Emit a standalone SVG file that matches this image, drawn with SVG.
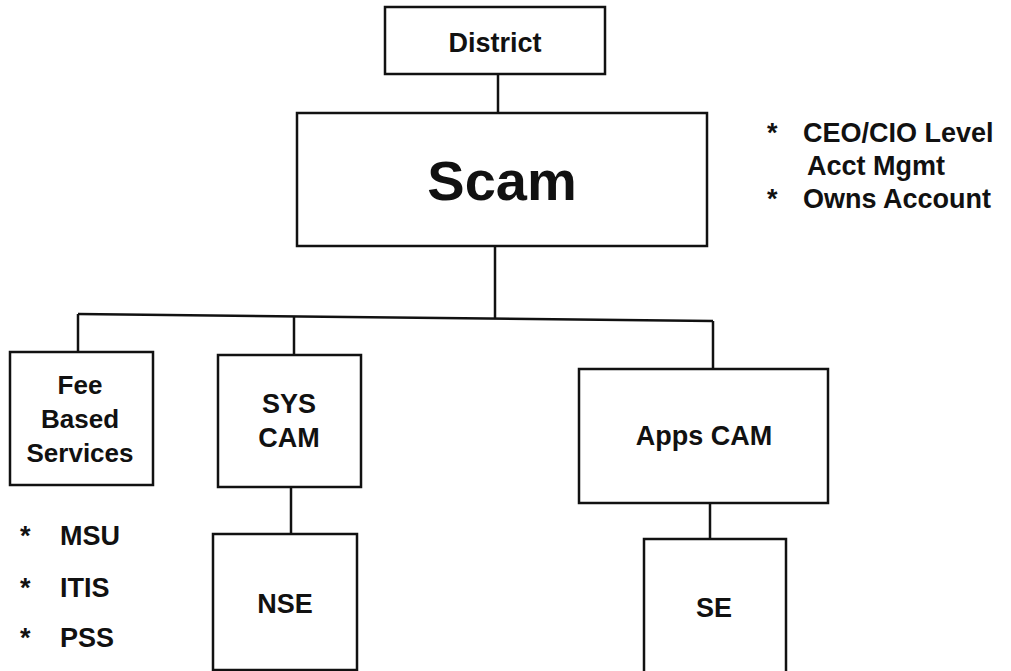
<svg xmlns="http://www.w3.org/2000/svg" width="1011" height="671" viewBox="0 0 1011 671">
<style>
.box{fill:#fff;stroke:#111;stroke-width:2.5}
.con{stroke:#111;stroke-width:2.5;fill:none}
text{font-family:"Liberation Sans",Arial,sans-serif;font-weight:bold;fill:#111;font-size:27px}
.c{text-anchor:middle}
</style>
<rect width="1011" height="671" fill="#fff"/>
<g id="connectors">
<line class="con" x1="498" y1="74" x2="498" y2="113"/>
<line class="con" x1="495" y1="246" x2="495" y2="318"/>
<line class="con" x1="78" y1="314" x2="713" y2="321"/>
<line class="con" x1="78" y1="314" x2="78" y2="352"/>
<line class="con" x1="294" y1="316" x2="294" y2="355"/>
<line class="con" x1="713" y1="321" x2="713" y2="369"/>
<line class="con" x1="291" y1="487" x2="291" y2="534"/>
<line class="con" x1="710" y1="503" x2="710" y2="539"/>
</g>
<g id="district">
<rect class="box" x="385" y="7" width="220" height="67"/>
<text class="c" x="495" y="52">District</text>
</g>
<g id="scam">
<rect class="box" x="297" y="113" width="410" height="133"/>
<text class="c" x="502" y="200" style="font-size:56px">Scam</text>
</g>
<g id="scam-notes">
<text x="767" y="142">*</text>
<text x="803" y="142">CEO/CIO Level</text>
<text x="807" y="175">Acct Mgmt</text>
<text x="767" y="208">*</text>
<text x="803" y="208">Owns Account</text>
</g>
<g id="fee">
<rect class="box" x="10" y="352" width="143" height="133"/>
<text class="c" x="80" y="394" style="font-size:26px">Fee</text>
<text class="c" x="80" y="428" style="font-size:26px">Based</text>
<text class="c" x="80" y="462" style="font-size:26px">Services</text>
</g>
<g id="fee-notes">
<text x="20" y="545">*</text>
<text x="60" y="545">MSU</text>
<text x="20" y="597">*</text>
<text x="60" y="597">ITIS</text>
<text x="20" y="647">*</text>
<text x="60" y="647">PSS</text>
</g>
<g id="syscam">
<rect class="box" x="218" y="355" width="143" height="132"/>
<text class="c" x="289" y="413">SYS</text>
<text class="c" x="289" y="447">CAM</text>
</g>
<g id="nse">
<rect class="box" x="213" y="534" width="144" height="136"/>
<text class="c" x="285" y="613">NSE</text>
</g>
<g id="appscam">
<rect class="box" x="579" y="369" width="249" height="134"/>
<text class="c" x="704" y="445">Apps CAM</text>
</g>
<g id="se">
<rect class="box" x="644" y="539" width="142" height="140"/>
<text class="c" x="714" y="617">SE</text>
</g>
</svg>
